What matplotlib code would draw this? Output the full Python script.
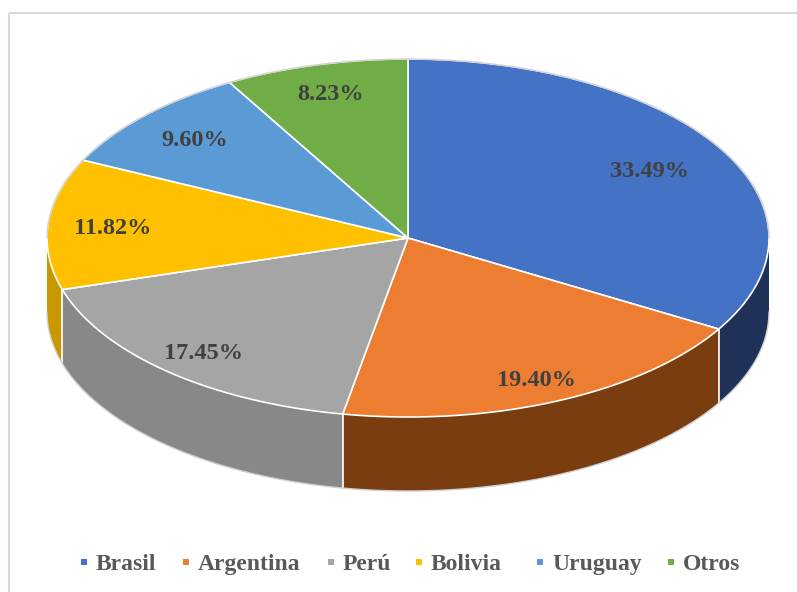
import numpy as np
import matplotlib
matplotlib.use("Agg")
import matplotlib.pyplot as plt
from matplotlib.patches import Polygon, Rectangle

countries = ["Brasil", "Argentina", "Perú", "Bolivia", "Uruguay", "Otros"]
shares = [33.49, 19.40, 17.45, 11.82, 9.60, 8.23]

top_colors = ["#4472C4", "#ED7D31", "#A5A5A5", "#FFC000", "#5B9BD5", "#70AD47"]
side_colors = ["#1F3158", "#7A3D10", "#888888", "#C99700", "#2E5A85", "#3E6327"]

# pie geometry in pixel coordinates
cx, cy = 408, 238
rx, ry = 361, 179
depth = 74


def pt(theta, dy=0.0):
    # theta in degrees, clockwise from 12 o'clock
    t = np.radians(theta)
    return cx + rx * np.sin(t), cy - ry * np.cos(t) + dy


fig = plt.figure(figsize=(7.97, 5.92), dpi=100)
ax = fig.add_axes([0, 0, 1, 1])
ax.set_xlim(0, 797)
ax.set_ylim(592, 0)
ax.axis("off")

# chart frame (only top and left visible in the crop)
ax.add_patch(Rectangle((9.5, 12.5), 900, 700, fill=False, ec="#D9D9D9", lw=1.5))

bounds = np.concatenate([[0], np.cumsum(shares) / sum(shares) * 360])

# side walls: only the front half (90..270 deg) is visible
for i in range(len(shares)):
    a, b = max(bounds[i], 90), min(bounds[i + 1], 270)
    if b <= a:
        continue
    th = np.linspace(a, b, 80)
    upper = [pt(t) for t in th]
    lower = [pt(t, depth) for t in th[::-1]]
    ax.add_patch(Polygon(upper + lower, closed=True, fc=side_colors[i], ec="none"))

for edge in bounds[1:-1]:
    if 90 < edge < 270:
        x0, y0 = pt(edge)
        ax.plot([x0, x0], [y0, y0 + depth], color="white", lw=1.2)

th = np.linspace(90, 270, 200)
xs, ys = zip(*[pt(t, depth) for t in th])
ax.plot(xs, ys, color="#D0D0D0", lw=1.0)

# top faces
for i in range(len(shares)):
    th = np.linspace(bounds[i], bounds[i + 1], 120)
    verts = [(cx, cy)] + [pt(t) for t in th]
    ax.add_patch(Polygon(verts, closed=True, fc=top_colors[i], ec="white", lw=1.2,
                         joinstyle="round"))

th = np.linspace(-90, 90, 200)
xs, ys = zip(*[pt(t) for t in th])
ax.plot(xs, ys, color="#D0D0D0", lw=1.0)

# percentage labels
label_r = [0.77, 0.86, 0.85, 0.82, 0.81, 0.84]
for i, v in enumerate(shares):
    mid = np.radians((bounds[i] + bounds[i + 1]) / 2)
    lx = cx + label_r[i] * rx * np.sin(mid)
    ly = cy - label_r[i] * ry * np.cos(mid)
    ax.text(lx, ly + 2, f"{v:.2f}%", ha="center", va="center", fontsize=17.5,
            fontweight="bold", family="Liberation Serif", color="#404040")

# legend, laid out like the Excel one
legend_x = [84, 186, 331, 419, 540, 671]
legend_y = 562
for x, name, c in zip(legend_x, countries, top_colors):
    ax.add_patch(Rectangle((x - 3, legend_y - 3), 6, 6, fc=c, ec="none"))
    ax.text(x + 12, legend_y, name, ha="left", va="center_baseline", fontsize=17,
            fontweight="bold", family="Liberation Serif", color="#595959")

fig.savefig("out.png", dpi=100)
